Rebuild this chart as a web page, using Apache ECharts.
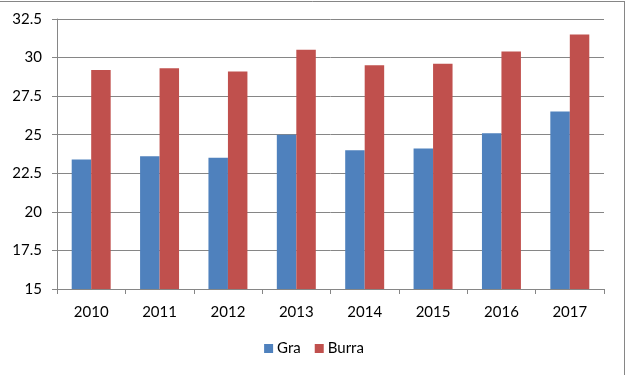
<!DOCTYPE html>
<html>
<head>
<meta charset="utf-8">
<script src="https://cdn.jsdelivr.net/npm/echarts@6/dist/echarts.min.js"></script>
<style>html,body{margin:0;padding:0;background:#fff}#c{width:628px;height:375px}</style>
</head>
<body>
<div id="c"></div>
<script>
const categories = ['2010','2011','2012','2013','2014','2015','2016','2017'];
const graValues = [23.4, 23.6, 23.5, 25.0, 24.0, 24.1, 25.1, 26.5];
const burraValues = [29.2, 29.3, 29.1, 30.5, 29.5, 29.6, 30.4, 31.5];
const seriesNames = ['Gra', 'Burra'];

const chart = echarts.init(document.getElementById('c'));
const font = 'Lato, "Open Sans", sans-serif';
chart.setOption({
  animation: false,
  textStyle: { fontFamily: font },
  grid: { left: 57, right: 24, top: 19, bottom: 86, containLabel: false },
  legend: {
    data: seriesNames,
    bottom: 14,
    left: 'center',
    itemWidth: 9, itemHeight: 9, itemGap: 14,
    icon: 'rect',
    textStyle: { fontSize: 15, color: '#000', fontFamily: font, padding: [0,0,0,-1] }
  },
  xAxis: {
    type: 'category',
    data: categories,
    axisLine: { lineStyle: { color: '#868686', width: 1 } },
    axisTick: { show: true, length: 5, lineStyle: { color: '#868686' } },
    axisLabel: { color: '#000', fontSize: 15, margin: 16, fontFamily: font },
    splitLine: { show: false }
  },
  yAxis: {
    type: 'value',
    min: 15, max: 32.5, interval: 2.5,
    axisLine: { show: true, lineStyle: { color: '#868686', width: 1 } },
    axisTick: { show: true, length: 5, lineStyle: { color: '#868686' } },
    axisLabel: { color: '#000', fontSize: 15, margin: 15, fontFamily: font },
    splitLine: { show: true, lineStyle: { color: '#868686', width: 1 } }
  },
  series: [
    { name: seriesNames[0], type: 'bar', data: graValues, barGap: '0%', barCategoryGap: '43%', itemStyle: { color: '#4F81BD' } },
    { name: seriesNames[1], type: 'bar', data: burraValues, barGap: '0%', barCategoryGap: '43%', itemStyle: { color: '#C0504D' } }
  ],
  graphic: [
    { type: 'line', shape: { x1: 0, y1: 1.5, x2: 624.5, y2: 1.5 }, style: { stroke: '#868686', lineWidth: 1 }, silent: true },
    { type: 'line', shape: { x1: 624.5, y1: 1, x2: 624.5, y2: 375 }, style: { stroke: '#868686', lineWidth: 1 }, silent: true }
  ]
});
</script>
</body>
</html>
